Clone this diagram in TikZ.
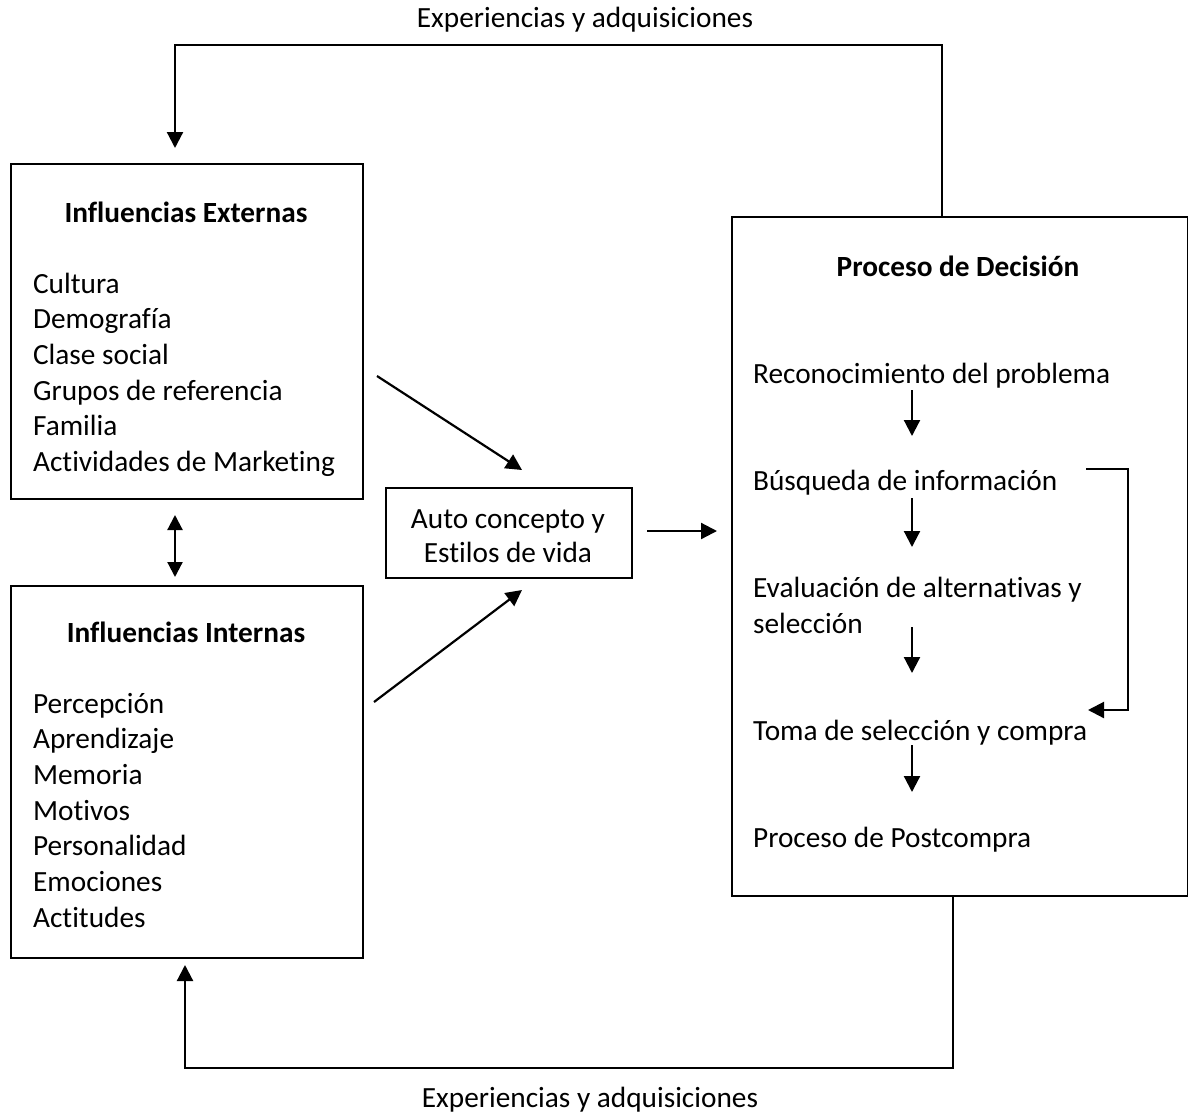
\documentclass[tikz,border=0pt]{standalone}
\usepackage{fontspec}
\setmainfont{Carlito}[Ligatures={NoCommon}]
\usetikzlibrary{arrows.meta}
\begin{document}
\begin{tikzpicture}[x=1pt,y=-1pt,line width=2.2pt,
  box/.style={draw,line width=1.8pt,inner sep=0pt},
  txt/.style={anchor=base west,inner sep=0pt,font=\fontsize{29.3}{35.7}\selectfont},
  ctxt/.style={anchor=base,inner sep=0pt,font=\fontsize{29.3}{35.7}\selectfont},
  ttl/.style={anchor=base,inner sep=0pt,font=\fontsize{29.3}{35.7}\selectfont\bfseries},
  arr/.style={-{Triangle[length=16pt,width=16pt]}},
  darr/.style={{Triangle[length=15pt,width=15pt]}-{Triangle[length=15pt,width=15pt]}},
]
\useasboundingbox (0,0) rectangle (1188,1114);

% boxes
\node[box,anchor=north west,minimum width=352,minimum height=335] (ext) at (10,163) {};
\node[box,anchor=north west,minimum width=352,minimum height=372] (int) at (10,585) {};
\node[box,anchor=north west,minimum width=246,minimum height=90] (auto) at (385,487) {};
\node[box,anchor=north west,minimum width=456,minimum height=679] (proc) at (731,216) {};

% external influences
\node[ttl] (extT) at (186,222) {Influencias Externas};
\node[txt] (e1) at (32,293.0) {Cultura};
\node[txt] (e2) at (32,328.7) {Demografía};
\node[txt] (e3) at (32,364.4) {Clase social};
\node[txt] (e4) at (32,400.1) {Grupos de referencia};
\node[txt] (e5) at (32,435.8) {Familia};
\node[txt] (e6) at (32,471.5) {Actividades de Marketing};

% internal influences
\node[ttl] (intT) at (186,642) {Influencias Internas};
\node[txt] (i1) at (32,713.0) {Percepción};
\node[txt] (i2) at (32,748.7) {Aprendizaje};
\node[txt] (i3) at (32,784.4) {Memoria};
\node[txt] (i4) at (32,820.1) {Motivos};
\node[txt] (i5) at (32,855.8) {Personalidad};
\node[txt] (i6) at (32,891.5) {Emociones};
\node[txt] (i7) at (32,927.2) {Actitudes};

% self-concept
\node[ctxt] (a1) at (508,528) {Auto concepto y};
\node[ctxt] (a2) at (508,562) {Estilos de vida};

% decision process
\node[ttl] (procT) at (958,276) {Proceso de Decisión};
\node[txt] (p1) at (752,383) {Reconocimiento del problema};
\node[txt] (p2) at (752,490) {Búsqueda de información};
\node[txt] (p3) at (752,597) {Evaluación de alternativas y};
\node[txt] (p3b) at (752,633) {selección};
\node[txt] (p4) at (752,740) {Toma de selección y compra};
\node[txt] (p5) at (752,847) {Proceso de Postcompra};

% feedback labels
\node[ctxt] (topL) at (585,27) {Experiencias y adquisiciones};
\node[ctxt] (botL) at (590,1107) {Experiencias y adquisiciones};

% feedback loops
\coordinate (t1) at (942,45);
\coordinate (t2) at (175,45);
\coordinate (t3) at (175,148);
\draw[arr] (proc.north -| t1) -- (t1) -- (t2) -- (t3);
\coordinate (b1) at (953,1068);
\coordinate (b2) at (185,1068);
\coordinate (b3) at (185,965);
\draw[arr] (proc.south -| b1) -- (b1) -- (b2) -- (b3);

% links between influences and self-concept
\coordinate (d1) at (175,515);
\coordinate (d2) at (175,577);
\draw[darr] (d1) -- (d2);
\coordinate (x1) at (377,376);
\coordinate (x2) at (522,470);
\draw[arr] (x1) -- (x2);
\coordinate (y1) at (374,702);
\coordinate (y2) at (522,590);
\draw[arr] (y1) -- (y2);
\coordinate (h1) at (647,531);
\coordinate (h2) at (717,531);
\draw[arr] (h1) -- (h2);

% steps of the decision process
\coordinate (s1a) at (912,390); \coordinate (s1b) at (912,436);
\coordinate (s2a) at (912,498); \coordinate (s2b) at (912,547);
\coordinate (s3a) at (912,627); \coordinate (s3b) at (912,673);
\coordinate (s4a) at (912,745); \coordinate (s4b) at (912,792);
\draw[arr] (s1a) -- (s1b);
\draw[arr] (s2a) -- (s2b);
\draw[arr] (s3a) -- (s3b);
\draw[arr] (s4a) -- (s4b);

% shortcut from search to purchase
\coordinate (k1) at (1086,469);
\coordinate (k2) at (1128,469);
\coordinate (k3) at (1128,710);
\coordinate (k4) at (1088,710);
\draw[arr] (k1) -- (k2) -- (k3) -- (k4);
\end{tikzpicture}
\end{document}
